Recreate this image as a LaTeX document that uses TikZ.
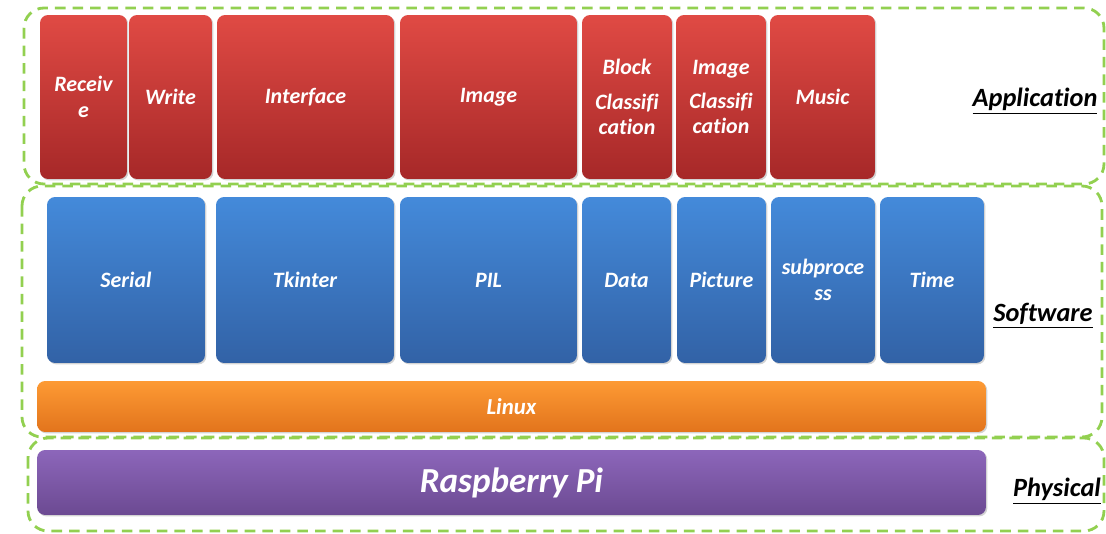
\documentclass[tikz,border=0pt]{standalone}
\usepackage{fontspec}
\setmainfont[Ligatures=NoCommon]{Carlito}
\usetikzlibrary{shadows,positioning}

\definecolor{appTop}{RGB}{224,74,68}
\definecolor{appBot}{RGB}{166,40,40}
\definecolor{swTop}{RGB}{68,138,218}
\definecolor{swBot}{RGB}{50,98,166}
\definecolor{osTop}{RGB}{253,154,52}
\definecolor{osBot}{RGB}{226,116,28}
\definecolor{hwTop}{RGB}{140,102,186}
\definecolor{hwBot}{RGB}{108,74,146}
\definecolor{grp}{RGB}{146,208,80}

\tikzset{
  blk/.style={rounded corners=0.16cm, inner sep=0pt, align=center, text=white,
    font=\fontsize{12.5}{14.5}\selectfont\bfseries\itshape,
    drop shadow={opacity=0.35, shadow xshift=0.8pt, shadow yshift=-0.8pt}},
  appblk/.style={blk, top color=appTop, bottom color=appBot, minimum height=3.28cm},
  swblk/.style={blk, top color=swTop, bottom color=swBot, minimum height=3.32cm},
  grpbox/.style={draw=grp, line width=1.6pt, dash pattern=on 6pt off 4pt, rounded corners=0.4cm},
  tag/.style={font=\fontsize{15}{17}\selectfont\bfseries\itshape}
}

\begin{document}
\begin{tikzpicture}[x=0.02cm, y=-0.02cm]
  \useasboundingbox (0,0) rectangle (1106,534);
  % application layer
  \node[appblk, minimum width=1.74cm] (receive)   at (83.5,97)  {Receiv\\e};
  \node[appblk, minimum width=1.66cm] (write)     at (170.5,97) {Write};
  \node[appblk, minimum width=3.54cm] (interface) at (305.5,97) {Interface};
  \node[appblk, minimum width=3.54cm] (image)     at (488.5,97) {Image};
  \node[appblk, minimum width=1.8cm]  (blockcls)  at (627,97)   {Block\\[5pt]Classifi\\cation};
  \node[appblk, minimum width=1.8cm]  (imagecls)  at (721,97)   {Image\\[5pt]Classifi\\cation};
  \node[appblk, minimum width=2.1cm]  (music)     at (822.5,97) {Music};
  % software layer
  \node[swblk, minimum width=3.16cm] (serial)  at (126,280)   {Serial};
  \node[swblk, minimum width=3.56cm] (tkinter) at (305,280)   {Tkinter};
  \node[swblk, minimum width=3.54cm] (pil)     at (488.5,280) {PIL};
  \node[swblk, minimum width=1.78cm] (data)    at (626.5,280) {Data};
  \node[swblk, minimum width=1.78cm] (picture) at (721.5,280) {Picture};
  \node[swblk, minimum width=2.08cm] (subproc) at (823,280)   {subproce\\ss};
  \node[swblk, minimum width=2.08cm] (time)    at (932,280)   {Time};
  % os and hardware
  \node[blk, top color=osTop, bottom color=osBot, minimum width=18.98cm, minimum height=1.02cm,
    font=\fontsize{13}{15}\selectfont\bfseries\itshape] (linux) at (511.5,406.5) {Linux};
  \node[blk, top color=hwTop, bottom color=hwBot, minimum width=18.98cm, minimum height=1.3cm,
    font=\fontsize{20}{24}\selectfont\bfseries\itshape] (rpi) at (511.5,482.5) {Raspberry Pi};
  % dashed groups
  \draw[grpbox] (24,8) rectangle (1104,184);
  \draw[grpbox] (22,186) rectangle (1102,437);
  \draw[grpbox] (28,438) rectangle (1104,531);
  \node[tag] (apptag)  at (1035,101) {\underline{Application}};
  \node[tag] (swtag)   at (1043,316) {\underline{Software}};
  \node[tag] (phytag)  at (1057,491) {\underline{Physical}};
\end{tikzpicture}
\end{document}
